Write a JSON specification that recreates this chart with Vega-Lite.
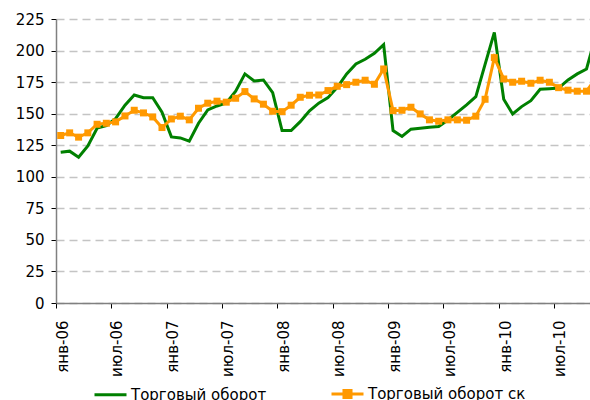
{
  "$schema": "https://vega.github.io/schema/vega-lite/v6.json",
  "width": 534,
  "height": 284,
  "autosize": {"type": "none"},
  "padding": {"left": 56, "top": 19, "right": 0, "bottom": 97},
  "config": {"view": {"stroke": null}, "font": "DejaVu Sans"},
  "data": {"values": [
    {"month": "2006-01", "Торговый оборот": 119.5, "Торговый оборот ск": 132.7},
    {"month": "2006-02", "Торговый оборот": 120.3, "Торговый оборот ск": 134.8},
    {"month": "2006-03", "Торговый оборот": 115.5, "Торговый оборот ск": 131.4},
    {"month": "2006-04", "Торговый оборот": 124.5, "Торговый оборот ск": 134.8},
    {"month": "2006-05", "Торговый оборот": 138.5, "Торговый оборот ск": 141.6},
    {"month": "2006-06", "Торговый оборот": 140.6, "Торговый оборот ск": 142.4},
    {"month": "2006-07", "Торговый оборот": 146.1, "Торговый оборот ск": 143.5},
    {"month": "2006-08", "Торговый оборот": 156.7, "Торговый оборот ск": 148.2},
    {"month": "2006-09", "Торговый оборот": 164.8, "Торговый оборот ск": 152.7},
    {"month": "2006-10", "Торговый оборот": 162.7, "Торговый оборот ск": 150.6},
    {"month": "2006-11", "Торговый оборот": 162.7, "Торговый оборот ск": 147.4},
    {"month": "2006-12", "Торговый оборот": 151.2, "Торговый оборот ск": 139.0},
    {"month": "2007-01", "Торговый оборот": 131.6, "Торговый оборот ск": 145.8},
    {"month": "2007-02", "Торговый оборот": 130.8, "Торговый оборот ск": 148.0},
    {"month": "2007-03", "Торговый оборот": 128.2, "Торговый оборот ск": 145.1},
    {"month": "2007-04", "Торговый оборот": 142.4, "Торговый оборот ск": 154.3},
    {"month": "2007-05", "Торговый оборот": 153.0, "Торговый оборот ск": 158.3},
    {"month": "2007-06", "Торговый оборот": 156.1, "Торговый оборот ск": 159.9},
    {"month": "2007-07", "Торговый оборот": 158.5, "Торговый оборот ск": 159.1},
    {"month": "2007-08", "Торговый оборот": 167.8, "Торговый оборот ск": 162.2},
    {"month": "2007-09", "Торговый оборот": 181.5, "Торговый оборот ск": 167.5},
    {"month": "2007-10", "Торговый оборот": 175.9, "Торговый оборот ск": 161.7},
    {"month": "2007-11", "Торговый оборот": 176.7, "Торговый оборот ск": 157.5},
    {"month": "2007-12", "Торговый оборот": 166.7, "Торговый оборот ск": 151.9},
    {"month": "2008-01", "Торговый оборот": 136.6, "Торговый оборот ск": 151.6},
    {"month": "2008-02", "Торговый оборот": 136.6, "Торговый оборот ск": 156.7},
    {"month": "2008-03", "Торговый оборот": 143.7, "Торговый оборот ск": 163.0},
    {"month": "2008-04", "Торговый оборот": 152.2, "Торговый оборот ск": 164.6},
    {"month": "2008-05", "Торговый оборот": 158.3, "Торговый оборот ск": 164.8},
    {"month": "2008-06", "Торговый оборот": 162.7, "Торговый оборот ск": 168.3},
    {"month": "2008-07", "Торговый оборот": 170.9, "Торговый оборот ск": 171.7},
    {"month": "2008-08", "Торговый оборот": 181.5, "Торговый оборот ск": 173.0},
    {"month": "2008-09", "Торговый оборот": 189.4, "Торговый оборот ск": 174.9},
    {"month": "2008-10", "Торговый оборот": 193.1, "Торговый оборот ск": 176.5},
    {"month": "2008-11", "Торговый оборот": 197.8, "Торговый оборот ск": 173.3},
    {"month": "2008-12", "Торговый оборот": 204.7, "Торговый оборот ск": 185.4},
    {"month": "2009-01", "Торговый оборот": 136.6, "Торговый оборот ск": 152.4},
    {"month": "2009-02", "Торговый оборот": 131.9, "Торговый оборот ск": 152.7},
    {"month": "2009-03", "Торговый оборот": 137.7, "Торговый оборот ск": 155.1},
    {"month": "2009-04", "Торговый оборот": 138.5, "Торговый оборот ск": 149.8},
    {"month": "2009-05", "Торговый оборот": 139.3, "Торговый оборот ск": 145.1},
    {"month": "2009-06", "Торговый оборот": 139.8, "Торговый оборот ск": 144.0},
    {"month": "2009-07", "Торговый оборот": 145.0, "Торговый оборот ск": 145.1},
    {"month": "2009-08", "Торговый оборот": 151.0, "Торговый оборот ск": 145.1},
    {"month": "2009-09", "Торговый оборот": 157.0, "Торговый оборот ск": 144.8},
    {"month": "2009-10", "Торговый оборот": 163.5, "Торговый оборот ск": 148.0},
    {"month": "2009-11", "Торговый оборот": 189.0, "Торговый оборот ск": 161.4},
    {"month": "2009-12", "Торговый оборот": 214.4, "Торговый оборот ск": 194.4},
    {"month": "2010-01", "Торговый оборот": 161.4, "Торговый оборот ск": 177.5},
    {"month": "2010-02", "Торговый оборот": 149.8, "Торговый оборот ск": 174.9},
    {"month": "2010-03", "Торговый оборот": 155.6, "Торговый оборот ск": 175.7},
    {"month": "2010-04", "Торговый оборот": 160.3, "Торговый оборот ск": 174.1},
    {"month": "2010-05", "Торговый оборот": 169.3, "Торговый оборот ск": 176.5},
    {"month": "2010-06", "Торговый оборот": 169.8, "Торговый оборот ск": 174.9},
    {"month": "2010-07", "Торговый оборот": 170.3, "Торговый оборот ск": 170.6},
    {"month": "2010-08", "Торговый оборот": 176.7, "Торговый оборот ск": 168.6},
    {"month": "2010-09", "Торговый оборот": 181.5, "Торговый оборот ск": 167.8},
    {"month": "2010-10", "Торговый оборот": 185.4, "Торговый оборот ск": 167.8},
    {"month": "2010-11", "Торговый оборот": 212.0, "Торговый оборот ск": 178.0}
  ]},
  "transform": [
    {"fold": ["Торговый оборот", "Торговый оборот ск"], "as": ["series", "value"]}
  ],
  "encoding": {
    "x": {
      "field": "month",
      "type": "temporal",
      "timeUnit": "utcyearmonth",
      "bandPosition": 0.5,
      "scale": {"domain": [
        {"year": 2006, "month": 1, "date": 1, "utc": true},
        {"year": 2010, "month": 10, "date": 28, "utc": true}
      ]},
      "axis": {
        "title": null,
        "values": [
          {"year": 2006, "month": 1, "date": 1, "utc": true},
          {"year": 2006, "month": 7, "date": 1, "utc": true},
          {"year": 2007, "month": 1, "date": 1, "utc": true},
          {"year": 2007, "month": 7, "date": 1, "utc": true},
          {"year": 2008, "month": 1, "date": 1, "utc": true},
          {"year": 2008, "month": 7, "date": 1, "utc": true},
          {"year": 2009, "month": 1, "date": 1, "utc": true},
          {"year": 2009, "month": 7, "date": 1, "utc": true},
          {"year": 2010, "month": 1, "date": 1, "utc": true},
          {"year": 2010, "month": 7, "date": 1, "utc": true}
        ],
        "labelExpr": "(utcFormat(datum.value, '%m') == '01' ? 'янв-' : 'июл-') + utcFormat(datum.value, '%y')",
        "labelAngle": -90,
        "labelFontSize": 15,
        "labelColor": "#000",
        "labelPadding": 12,
        "labelOffset": 6,
        "labelOverlap": false,
        "labelBound": false,
        "labelFlush": false,
        "tickSize": 5,
        "tickColor": "#000",
        "domainColor": "#808080",
        "domainWidth": 1.5,
        "grid": false
      }
    },
    "y": {
      "field": "value",
      "type": "quantitative",
      "scale": {"domain": [0, 225], "nice": false, "zero": true},
      "axis": {
        "title": null,
        "values": [0, 25, 50, 75, 100, 125, 150, 175, 200, 225],
        "labelFontSize": 15,
        "labelColor": "#000",
        "labelPadding": 7,
        "tickSize": 5,
        "tickColor": "#000",
        "domainColor": "#808080",
        "domainWidth": 1.5,
        "grid": true,
        "gridDash": [8, 5],
        "gridColor": "#c4c4c4",
        "gridWidth": 1.5
      }
    }
  },
  "layer": [
    {
      "mark": {"type": "line", "strokeWidth": 3, "clip": true},
      "encoding": {
        "color": {
          "field": "series",
          "type": "nominal",
          "scale": {"domain": ["Торговый оборот", "Торговый оборот ск"], "range": ["#008000", "#FF9900"]},
          "legend": {
            "title": null,
            "orient": "none",
            "legendX": 37,
            "legendY": 357,
            "direction": "horizontal",
            "symbolType": "stroke",
            "symbolSize": 1024,
            "symbolStrokeWidth": 3,
            "labelFontSize": 15,
            "labelColor": "#000",
            "labelOffset": 3,
            "labelLimit": 300,
            "columnPadding": 58,
            "encode": {
              "symbols": {
                "update": {
                  "shape": {"signal": "datum.value === 'Торговый оборот ск' ? 'M-1,0H1M-0.22,-0.22H0.22V0.22H-0.22Z' : 'stroke'"},
                  "fill": {"signal": "datum.value === 'Торговый оборот ск' ? '#FF9900' : 'transparent'"}
                }
              }
            }
          }
        }
      }
    },
    {
      "transform": [{"filter": "datum.series === 'Торговый оборот ск'"}],
      "mark": {"type": "square", "size": 49, "color": "#FF9900", "opacity": 1, "filled": true, "clip": true}
    }
  ]
}
